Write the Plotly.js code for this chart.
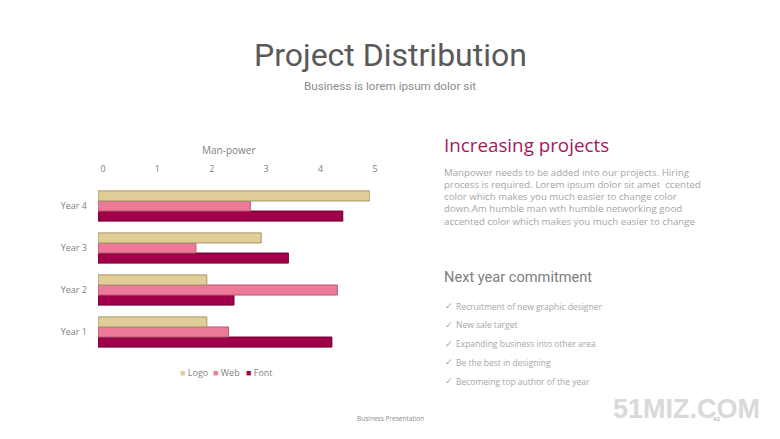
<!DOCTYPE html>
<html><head><meta charset="utf-8">
<script src="https://cdn.plot.ly/plotly-3.0.1.min.js"></script>
<style>html,body{margin:0;padding:0;background:#fff;}#chart{width:780px;height:439px;}</style>
</head><body><div id="chart"></div>
<script>
const categories = ["Year 1", "Year 2", "Year 3", "Year 4"];
const logoValues = [2.0, 2.0, 3.0, 5.0];
const webValues = [2.4, 4.4, 1.8, 2.8];
const fontValues = [4.3, 2.5, 3.5, 4.5];
const xTicks = [0, 1, 2, 3, 4, 5];
const seriesNames = ["Logo", "Web", "Font"];
const seriesColors = ["#E1CD97", "#EC7A98", "#A0004A"];
const seriesEdges = ["#a89668", "#b85a73", "#6e0033"];
const paragraphLines = [
  "Manpower needs to be added into our projects. Hiring",
  "process is required. Lorem ipsum dolor sit amet  ccented",
  "color which makes you much easier to change color",
  "down.Am humble man wth humble networking good",
  "accented color which makes you much easier to change"
];
const bullets = [
  "Recruitment of new graphic designer",
  "New sale target",
  "Expanding business into other area",
  "Be the best in designing",
  "Becomeing top author of the year"
];

const W = 780, H = 439;
const L = 98, R = 410, T = 185, B = 86;
const px = x => (x - L) / (W - L - R);
const py = y => (H - B - y) / (H - T - B);

const valuesBySeries = [logoValues, webValues, fontValues];
const traces = [2, 1, 0].map(i => ({
  type: "bar", orientation: "h", name: seriesNames[i], x: valuesBySeries[i], y: categories,
  marker: {color: seriesColors[i], line: {color: seriesEdges[i], width: 1}},
  hoverinfo: "skip"
}));

const ann = [];
ann.push({text: "Project Distribution", x: 390, y: 55, size: 32, color: "#595959", fam: "Roboto", xa: "center"});
ann.push({text: "Business is lorem ipsum dolor sit", x: 390, y: 86, size: 11.7, color: "#8c8c8c", fam: "Roboto", xa: "center"});
ann.push({text: "Increasing projects", x: 442, y: 145, size: 18.8, color: "#A8175E", fam: "Open Sans", xa: "left"});
paragraphLines.forEach((t, i) => ann.push({text: t, x: 442, y: 172 + i * 12.3, size: 9.7, color: "#a6a6a6", fam: "Open Sans", xa: "left"}));
ann.push({text: "Next year commitment", x: 442, y: 277, size: 14.6, color: "#808080", fam: "Roboto", xa: "left"});
bullets.forEach((t, i) => {
  ann.push({text: "\u2713", x: 443, y: 306 + i * 18.8, size: 9, color: "#a6a6a6", fam: "DejaVu Sans", xa: "left"});
  ann.push({text: t, x: 454, y: 306 + i * 18.8, size: 8.5, color: "#a6a6a6", fam: "Open Sans", xa: "left"});
});
ann.push({text: "Business Presentation", x: 390, y: 418, size: 6.5, color: "#8c8c8c", fam: "Open Sans", xa: "center"});
ann.push({text: "51MIZ.COM", x: 686, y: 409, size: 27, color: "#d9d9d9", fam: "Liberation Sans", xa: "center", bold: true});
ann.push({text: "42", x: 716, y: 419, size: 6, color: "#9a9a9a", fam: "Open Sans", xa: "center"});
ann.push({text: "Man-power", x: 229, y: 150, size: 10, color: "#7f7f7f", fam: "Open Sans", xa: "center"});
const legendX = [178, 211, 244];
seriesNames.forEach((n, i) => ann.push({
  text: "<span style='color:" + seriesColors[i] + "'>\u25A0</span> " + n,
  x: legendX[i], y: 372, size: 9, color: "#7f7f7f", fam: "Open Sans", xa: "left"
}));

const annotations = ann.map(a => ({
  xref: "paper", yref: "paper", x: px(a.x), y: py(a.y),
  xanchor: a.xa, yanchor: "middle", showarrow: false,
  text: a.bold ? "<b>" + a.text + "</b>" : a.text,
  font: {family: a.fam, size: a.size, color: a.color}
}));

const layout = {
  width: W, height: H,
  margin: {l: L, r: R, t: T, b: B},
  paper_bgcolor: "#fff", plot_bgcolor: "#fff",
  barmode: "group", bargap: 0.28, bargroupgap: 0,
  showlegend: false,
  xaxis: {side: "top", range: [0, 5], tickvals: xTicks, ticktext: xTicks.map(String),
    showgrid: false, zeroline: false, showline: false, ticks: "",
    ticklabelshift: 5, ticklabelstandoff: 10,
    tickfont: {family: "Open Sans", size: 9, color: "#808080"}},
  yaxis: {categoryorder: "array", categoryarray: categories,
    showgrid: false, zeroline: false, showline: false, ticks: "", ticklabelstandoff: 10,
    tickfont: {family: "Open Sans", size: 9, color: "#808080"}},
  annotations: annotations
};

Plotly.newPlot("chart", traces, layout, {displayModeBar: false, staticPlot: true});
</script></body></html>
